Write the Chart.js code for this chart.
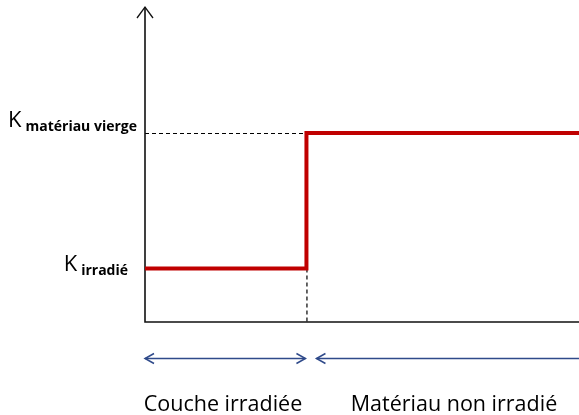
<!DOCTYPE html>
<html>
<head>
<meta charset="utf-8">
<script src="https://cdn.jsdelivr.net/npm/chart.js@4/dist/chart.umd.min.js"></script>
<style>
  html, body { margin: 0; padding: 0; background: #fff; }
  canvas { display: block; }
</style>
</head>
<body>
<canvas id="chart" width="579" height="415"></canvas>
<script>
// step profile of K versus depth
const depth = [0, 3.72, 10];
const kValues = [1.7, 6.0, 6.0];

// levels named on the vertical axis
const levelValues = [1.7, 6.0];
const levelSubs = ['irradié', 'matériau vierge'];

// zones marked under the horizontal axis
const zoneStarts = [0, 3.72];
const zoneEnds = [3.72, 10];
const zoneNames = ['Couche irradiée', 'Matériau non irradié'];

const FONT = '"Open Sans", "Liberation Sans", sans-serif';
const AXIS_BOTTOM = 322;

function chevron(ctx, x, y, dir) {
  ctx.beginPath();
  ctx.moveTo(x - dir * 9, y - 5);
  ctx.lineTo(x, y);
  ctx.lineTo(x - dir * 9, y + 5);
  ctx.stroke();
}

const decorations = {
  id: 'decorations',
  beforeDatasetsDraw(chart) {
    const { ctx, chartArea, scales } = chart;
    const xs = scales.x, ys = scales.y;
    const left = xs.getPixelForValue(0);
    const stepX = xs.getPixelForValue(depth[1]);
    ctx.save();

    // dashed guides
    ctx.strokeStyle = '#000';
    ctx.lineWidth = 1.2;
    ctx.setLineDash([4, 3]);
    ctx.beginPath();
    ctx.moveTo(left, ys.getPixelForValue(kValues[1]) + 0.5);
    ctx.lineTo(stepX, ys.getPixelForValue(kValues[1]) + 0.5);
    ctx.moveTo(stepX + 0.5, ys.getPixelForValue(kValues[0]));
    ctx.lineTo(stepX + 0.5, ys.getPixelForValue(0));
    ctx.stroke();
    ctx.setLineDash([]);

    // axes
    ctx.strokeStyle = '#111';
    ctx.lineWidth = 1.6;
    ctx.beginPath();
    ctx.moveTo(left, chartArea.top);
    ctx.lineTo(left, ys.getPixelForValue(0));
    ctx.lineTo(chartArea.right, ys.getPixelForValue(0));
    ctx.stroke();
    ctx.lineWidth = 1.3;
    ctx.beginPath();
    ctx.moveTo(left - 8, chartArea.top + 11);
    ctx.lineTo(left, chartArea.top);
    ctx.lineTo(left + 8, chartArea.top + 11);
    ctx.stroke();

    // level labels: K with subscript
    const offsets = [3, -6];
    const gaps = [17, 8];
    ctx.fillStyle = '#000';
    levelValues.forEach((v, i) => {
      const y = ys.getPixelForValue(v) + offsets[i];
      ctx.font = 'bold 14px ' + FONT;
      const subW = ctx.measureText(levelSubs[i]).width;
      const subRight = left - gaps[i];
      ctx.textAlign = 'right';
      ctx.textBaseline = 'alphabetic';
      ctx.fillText(levelSubs[i], subRight, y + 4);
      ctx.font = '22px ' + FONT;
      ctx.fillText('K', subRight - subW - 4, y);
    });

    // zone arrows and names
    ctx.strokeStyle = '#2f4a8a';
    ctx.lineWidth = 1.5;
    const arrowY = 358.5;
    zoneStarts.forEach((s, i) => {
      const x0 = xs.getPixelForValue(s) + (i === 0 ? 0 : 10);
      const x1 = xs.getPixelForValue(zoneEnds[i]) - (i === 0 ? 1 : -6);
      ctx.beginPath();
      ctx.moveTo(x0, arrowY);
      ctx.lineTo(x1, arrowY);
      ctx.stroke();
      chevron(ctx, x0, arrowY, -1);
      if (i === 0) chevron(ctx, x1, arrowY, 1);
    });
    ctx.fillStyle = '#000';
    ctx.font = '21.5px ' + FONT;
    ctx.textAlign = 'center';
    const centers = [223, 454];
    zoneNames.forEach((name, i) => {
      ctx.fillText(name, centers[i], 411);
    });
    ctx.restore();
  }
};

new Chart(document.getElementById('chart'), {
  type: 'line',
  data: {
    datasets: [{
      data: depth.map((d, i) => ({ x: d, y: kValues[i] })),
      stepped: 'before',
      borderColor: '#c00000',
      borderWidth: 4,
      pointRadius: 0,
      fill: false
    }]
  },
  options: {
    responsive: false,
    animation: false,
    layout: { padding: { left: 145, right: 0, top: 7, bottom: 415 - AXIS_BOTTOM } },
    plugins: { legend: { display: false }, tooltip: { enabled: false } },
    scales: {
      x: { type: 'linear', display: false, min: 0, max: 10 },
      y: { type: 'linear', display: false, min: 0, max: 10 }
    }
  },
  plugins: [decorations]
});
</script>
</body>
</html>
